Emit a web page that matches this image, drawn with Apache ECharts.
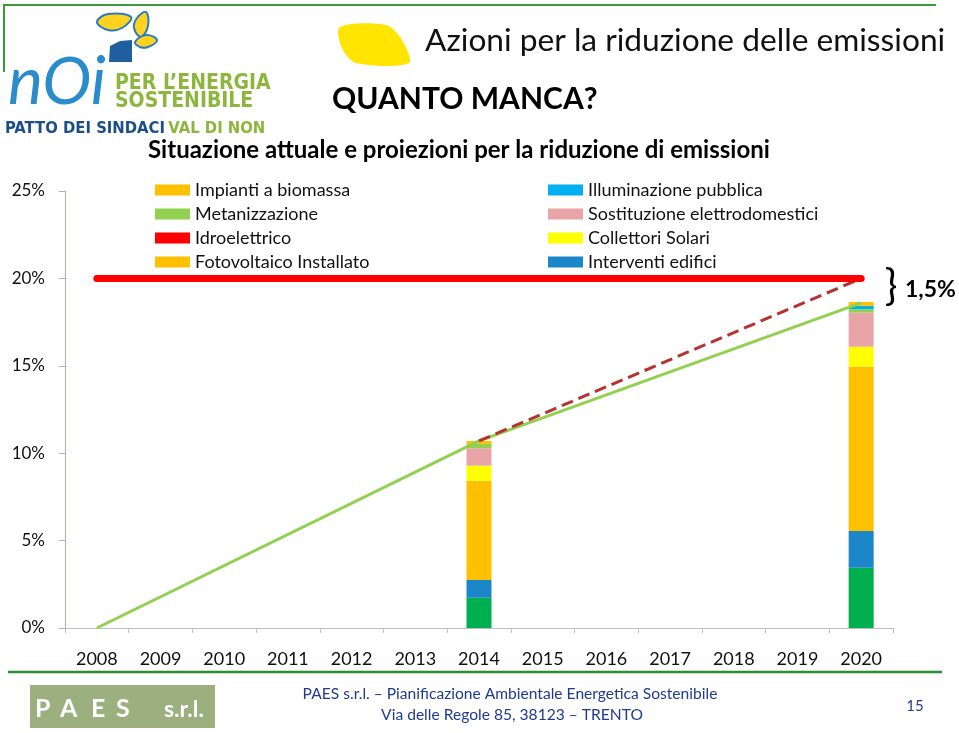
<!DOCTYPE html>
<html>
<head>
<meta charset="utf-8">
<script src="https://cdn.jsdelivr.net/npm/echarts@6/dist/echarts.min.js"></script>
<style>
  html, body { margin: 0; padding: 0; background: #fff; }
  #chart { width: 959px; height: 733px; }
</style>
</head>
<body>
<div id="chart"></div>
<script>
// anni sull'asse x
const years = ['2008', '2009', '2010', '2011', '2012', '2013', '2014', '2015', '2016', '2017', '2018', '2019', '2020'];
const yTicks = [0, 5, 10, 15, 20, 25];
// valori delle colonne: [2014, 2020], in %
const barYears = ['2014', '2020'];
const base = [1.73, 3.45];            // quota senza voce di legenda
const interventiEdifici = [1.02, 2.10];
const fotovoltaico = [5.68, 9.40];
const collettoriSolari = [0.86, 1.14];
const idroelettrico = [0, 0];
const elettrodomestici = [0.99, 1.95];
const metanizzazione = [0.25, 0.20];
const illuminazione = [0, 0.19];
const biomassa = [0.17, 0.22];
// linee
const lineaAttuale = [['2008', 0], ['2014', 10.7], ['2020', 18.6]];
const lineaProiezione = [['2014', 10.7], ['2020', 20]];
const obiettivo = [['2008', 20], ['2020', 20]];

const font = 'Lato, "Open Sans", sans-serif';
const narrow = '"Liberation Sans Narrow", "DejaVu Sans Condensed", sans-serif';

function pairs(vals) {
  return barYears.map((y, i) => [y, vals[i]]);
}

function bar(name, vals, color) {
  return {
    name: name,
    type: 'bar',
    stack: 'tot',
    barWidth: 25,
    itemStyle: { color: color },
    data: pairs(vals)
  };
}

function leaf(points) {
  return {
    type: 'polygon',
    shape: { points: points, smooth: 0.4 },
    style: { fill: '#FFD21F', stroke: '#2A7CC0', lineWidth: 2 }
  };
}

function paesLetter(ch, x) {
  return { type: 'text', x: x, y: 709,
    style: { text: ch, font: 'bold 25px ' + font, fill: '#fff', verticalAlign: 'middle' } };
}

const legendText = { fontSize: 18, lineHeight: 18, color: '#111', fontFamily: font };

const chart = echarts.init(document.getElementById('chart'));

const option = {
  animation: false,
  textStyle: { fontFamily: font },
  grid: { left: 65, right: 66, top: 191, bottom: 105 },
  legend: [
    {
      orient: 'vertical', left: 155, top: 181, padding: 0,
      itemWidth: 35, itemHeight: 11, itemGap: 6, icon: 'rect',
      textStyle: legendText,
      data: ['Impianti a biomassa', 'Metanizzazione', 'Idroelettrico', 'Fotovoltaico Installato']
    },
    {
      orient: 'vertical', left: 548, top: 181, padding: 0,
      itemWidth: 35, itemHeight: 11, itemGap: 6, icon: 'rect',
      textStyle: legendText,
      data: ['Illuminazione pubblica', 'Sostituzione elettrodomestici', 'Collettori Solari', 'Interventi edifici']
    }
  ],
  xAxis: {
    type: 'category',
    data: years,
    boundaryGap: true,
    axisLine: { lineStyle: { color: '#bfbfbf', width: 1 } },
    axisTick: { show: true, length: 5, lineStyle: { color: '#bfbfbf' } },
    axisLabel: { fontSize: 18, color: '#111', margin: 22, interval: 0 }
  },
  yAxis: {
    type: 'value',
    min: yTicks[0], max: yTicks[yTicks.length - 1], interval: 5,
    axisLine: { show: true, lineStyle: { color: '#a9b99e', width: 1 } },
    axisTick: { show: true, length: 6, lineStyle: { color: '#a9b99e' } },
    splitLine: { show: false },
    axisLabel: { fontSize: 17, color: '#111', margin: 20, formatter: '{value}%' }
  },
  series: [
    bar('base', base, '#00B050'),
    bar('Interventi edifici', interventiEdifici, '#1B87C9'),
    bar('Fotovoltaico Installato', fotovoltaico, '#FFC000'),
    bar('Collettori Solari', collettoriSolari, '#FFFF00'),
    bar('Idroelettrico', idroelettrico, '#FF0000'),
    bar('Sostituzione elettrodomestici', elettrodomestici, '#E8A4A7'),
    bar('Metanizzazione', metanizzazione, '#92D050'),
    bar('Illuminazione pubblica', illuminazione, '#00B0F0'),
    bar('Impianti a biomassa', biomassa, '#FFC000'),
    {
      name: 'attuale', type: 'line', z: 4, symbol: 'none', connectNulls: true,
      lineStyle: { color: '#92D050', width: 3 },
      data: lineaAttuale
    },
    {
      name: 'proiezione', type: 'line', z: 4, symbol: 'none',
      lineStyle: { color: '#B83232', width: 3, type: [12, 6] },
      data: lineaProiezione
    },
    {
      name: 'obiettivo', type: 'line', z: 5, symbol: 'none',
      lineStyle: { color: '#FF0000', width: 7, cap: 'round' },
      data: obiettivo
    }
  ],
  graphic: [
    // cornice verde
    { type: 'line', shape: { x1: 3, y1: 5, x2: 936, y2: 5 }, style: { stroke: '#3A9A3A', lineWidth: 2 } },
    { type: 'line', shape: { x1: 4, y1: 5, x2: 4, y2: 72 }, style: { stroke: '#3A9A3A', lineWidth: 2 } },
    { type: 'line', shape: { x1: 8, y1: 672, x2: 942, y2: 672 }, style: { stroke: '#2E8B2E', lineWidth: 2.5 } },
    // logo
    leaf([[97, 22], [108, 14], [131, 17], [122, 28], [108, 30]]),
    leaf([[146, 12], [148, 26], [141, 37], [134, 28], [137, 18]]),
    leaf([[135, 42], [146, 35], [157, 40], [148, 47], [140, 47]]),
    { type: 'polygon', shape: { points: [[110, 46], [120, 41], [132, 40], [132, 62], [109, 62]] },
      style: { fill: '#1F5FA0' } },
    { type: 'text', left: 8, top: 50,
      style: { text: 'nOi', font: 'italic 66px ' + font, fill: '#2A8CCB' } },
    { type: 'text', left: 115, top: 73,
      style: { text: 'PER L\u2019ENERGIA', font: 'bold 21px ' + narrow, fill: '#8CB63C' } },
    { type: 'text', left: 115, top: 91,
      style: { text: 'SOSTENIBILE', font: 'bold 21px ' + narrow, fill: '#8CB63C' } },
    { type: 'text', left: 5, top: 120,
      style: {
        text: '{a|PATTO DEI SINDACI} {b|VAL DI NON}',
        rich: {
          a: { font: 'bold 16.5px ' + narrow, fill: '#1B4F8A' },
          b: { font: 'bold 16.5px ' + narrow, fill: '#8CB63C' }
        }
      } },
    // foglia gialla
    { type: 'polygon', shape: { points: [[340, 27], [386, 25], [402, 40], [409, 63], [356, 63], [342, 48]], smooth: 0.3 },
      style: { fill: '#FFE500' } },
    // titoli
    { type: 'text', left: 425, top: 25,
      style: { text: 'Azioni per la riduzione delle emissioni', font: '31.7px ' + font, fill: '#111' } },
    { type: 'text', left: 332, top: 84,
      style: { text: 'QUANTO MANCA?', font: 'bold 30px ' + font, fill: '#000' } },
    { type: 'text', left: 148, top: 138,
      style: { text: 'Situazione attuale e proiezioni per la riduzione di emissioni', font: 'bold 24px ' + font, fill: '#000' } },
    // parentesi e differenza
    { type: 'text', x: 891, y: 286,
      style: { text: '}', font: '42px ' + font, fill: '#000', align: 'center', verticalAlign: 'middle' } },
    { type: 'text', x: 905, y: 290,
      style: { text: '1,5%', font: 'bold 23px ' + font, fill: '#000', align: 'left', verticalAlign: 'middle' } },
    // piè di pagina
    { type: 'rect', shape: { x: 30, y: 685, width: 185, height: 43 }, style: { fill: '#9BB07E' } },
    paesLetter('P', 35),
    paesLetter('A', 60),
    paesLetter('E', 91),
    paesLetter('S', 116),
    { type: 'text', x: 164, y: 710,
      style: { text: 's.r.l.', font: 'bold 23px ' + font, fill: '#fff', verticalAlign: 'middle' } },
    { type: 'text', x: 510, y: 694,
      style: { text: 'PAES s.r.l. \u2013 Pianificazione Ambientale Energetica Sostenibile', font: '15.6px ' + font, fill: '#1F3A93', align: 'center', verticalAlign: 'middle' } },
    { type: 'text', x: 512, y: 715,
      style: { text: 'Via delle Regole 85, 38123 \u2013 TRENTO', font: '15.6px ' + font, fill: '#1F3A93', align: 'center', verticalAlign: 'middle' } },
    { type: 'text', x: 915, y: 706,
      style: { text: '15', font: '15px ' + font, fill: '#1F3A93', align: 'center', verticalAlign: 'middle' } }
  ]
};

chart.setOption(option);
</script>
</body>
</html>
